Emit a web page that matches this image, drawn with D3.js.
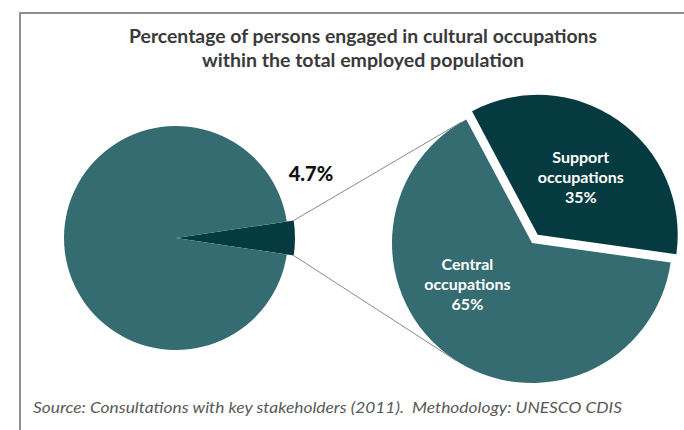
<!DOCTYPE html>
<html>
<head>
<meta charset="utf-8">
<script src="https://cdn.jsdelivr.net/npm/d3@7"></script>
<style>
  html, body { margin: 0; padding: 0; background: #fff; }
  svg { display: block; font-family: Lato, "Open Sans", sans-serif; }
</style>
</head>
<body>
<script>
// Chart data
const titleLines = ["Percentage of persons engaged in cultural occupations",
    "within the total employed population"];
const sourceText = "Source: Consultations with key stakeholders (2011).  Methodology: UNESCO CDIS";

// left pie: share of cultural occupations in total employment
const totalNames = ["Cultural occupations", "Other occupations"];
const totalValues = [4.7, 95.3];
const totalLabel = "4.7%";

// right pie: breakdown of cultural occupations
const cultureNames = ["Support occupations", "Central occupations"];
const cultureValues = [35, 65];
const cultureLabels = [["Support", "occupations", "35%"], ["Central", "occupations", "65%"]];

// SVG variables
const width = 684,
    height = 430;

const teal = "#346c71",
    darkTeal = "#053b40";

const svg = d3.select("body").append("svg")
    .attr("width", width)
    .attr("height", height);

// frame (only top and left edges show)
svg.append("path")
    .attr("d", `M20,${height} L20,13 L${width},13`)
    .attr("fill", "none")
    .attr("stroke", "#8f8f8f")
    .attr("stroke-width", 2);

// title
svg.append("g").selectAll("text")
    .data(titleLines)
    .join("text")
    .attr("x", 363)
    .attr("y", (d, i) => 43 + i * 24)
    .attr("text-anchor", "middle")
    .attr("font-size", 18)
    .attr("font-weight", 700)
    .attr("fill", "#3a3a3a")
    .attr("textLength", (d, i) => i === 0 ? 468 : 322)
    .attr("lengthAdjust", "spacingAndGlyphs")
    .text(d => d);

// Left pie
const left = {cx: 176, cy: 238, r: 112, rSmall: 119};
const smallShare = totalValues[0] / d3.sum(totalValues);

const leftPie = d3.pie()
    .sort(null)
    .startAngle(Math.PI / 2 - smallShare * Math.PI)
    .endAngle(Math.PI / 2 - smallShare * Math.PI + 2 * Math.PI);

const leftArcs = leftPie(totalValues);
const leftG = svg.append("g")
    .attr("transform", `translate(${left.cx},${left.cy})`);

leftG.selectAll("path")
    .data(leftArcs)
    .join("path")
    .attr("d", (d, i) => d3.arc().innerRadius(0).outerRadius(i === 0 ? left.rSmall : left.r)(d))
    .attr("fill", (d, i) => i === 0 ? darkTeal : teal);

svg.append("text")
    .attr("x", 311)
    .attr("y", 181)
    .attr("text-anchor", "middle")
    .attr("font-size", 20)
    .attr("font-weight", 900)
    .attr("fill", "#111")
    .text(totalLabel);

// Right pie
const right = {cx: 532, cy: 243, r: 140, explode: 10};

const rightPie = d3.pie()
    .sort(null)
    .startAngle(-28 * Math.PI / 180)
    .endAngle(-28 * Math.PI / 180 + 2 * Math.PI);

const rightArcs = rightPie(cultureValues);
const rightArc = d3.arc().innerRadius(0).outerRadius(right.r);

const rightG = svg.append("g")
    .attr("transform", `translate(${right.cx},${right.cy})`);

rightG.selectAll("path")
    .data(rightArcs)
    .join("path")
    .attr("d", rightArc)
    .attr("transform", (d, i) => {
        if (i !== 0) return null;
        const mid = (d.startAngle + d.endAngle) / 2;
        return `translate(${Math.sin(mid) * right.explode},${-Math.cos(mid) * right.explode})`;
    })
    .attr("fill", (d, i) => i === 0 ? darkTeal : teal);

// label placement (angle in degrees from north, distance from centre)
const labelSpots = [{a: 37, d: 81}, {a: 237, d: 77}];

rightG.selectAll("g.label")
    .data(rightArcs)
    .join("g")
    .attr("class", "label")
    .attr("transform", (d, i) => {
        const a = labelSpots[i].a * Math.PI / 180;
        return `translate(${Math.sin(a) * labelSpots[i].d},${-Math.cos(a) * labelSpots[i].d})`;
    })
    .selectAll("text")
    .data((d, i) => cultureLabels[i])
    .join("text")
    .attr("x", 0)
    .attr("y", (d, i) => (i - 1) * 20 + 5)
    .attr("text-anchor", "middle")
    .attr("font-size", 16)
    .attr("font-weight", 700)
    .attr("fill", "#fff")
    .text(d => d);

// connector lines: from the small slice corners, tangent to the right pie
const small = leftArcs[0];
const corners = [small.startAngle, small.endAngle].map(a => [
    left.cx + Math.sin(a) * left.rSmall,
    left.cy - Math.cos(a) * left.rSmall
]);

function tangentPoints(p) {
    const dx = p[0] - right.cx, dy = p[1] - right.cy;
    const d = Math.hypot(dx, dy);
    const base = Math.atan2(dy, dx);
    const off = Math.acos(right.r / d);
    return [base + off, base - off].map(a => [
        right.cx + Math.cos(a) * right.r,
        right.cy + Math.sin(a) * right.r
    ]);
}

const links = corners.map((c, i) => {
    const t = tangentPoints(c).sort((a, b) => a[1] - b[1]);
    return [c, i === 0 ? t[0] : t[1]];
});

svg.append("g").selectAll("line")
    .data(links)
    .join("line")
    .attr("x1", d => d[0][0])
    .attr("y1", d => d[0][1])
    .attr("x2", d => d[1][0])
    .attr("y2", d => d[1][1])
    .attr("stroke", "#8a8a8a")
    .attr("stroke-width", 1);

// source note
svg.append("text")
    .attr("x", 33)
    .attr("y", 413)
    .attr("font-size", 15)
    .attr("font-style", "italic")
    .attr("fill", "#595959")
    .attr("textLength", 589)
    .attr("lengthAdjust", "spacingAndGlyphs")
    .style("white-space", "pre")
    .text(sourceText);
</script>
</body>
</html>
